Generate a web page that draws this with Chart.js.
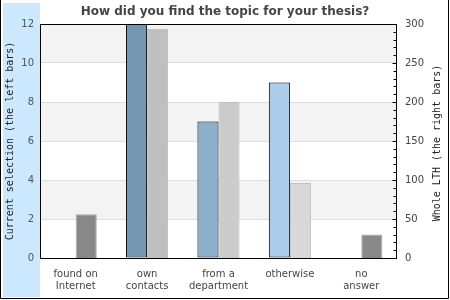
<!DOCTYPE html>
<html>
<head>
<meta charset="utf-8">
<script src="https://cdn.jsdelivr.net/npm/chart.js@4"></script>
<style>
html,body{margin:0;padding:0;background:#fff;}
#c{display:block;}
</style>
</head>
<body>
<canvas id="c" width="450" height="300"></canvas>
<script>
const categories = [["found on","Internet"],["own","contacts"],["from a","department"],["otherwise"],["no","answer"]];
const currentSelection = [0, 12, 7, 9, 0];
const wholeLTH = [56, 294, 200, 96, 30];
const leftTicks = [0, 2, 4, 6, 8, 10, 12];
const rightTicks = [0, 50, 100, 150, 200, 250, 300];
const titleText = "How did you find the topic for your thesis?";
const leftTitle = "Current selection (the left bars)";
const rightTitle = "Whole LTH (the right bars)";

const leftColors = ['#7496b0','#7496b0','#8fb0cc','#abcde9','#abcde9'];
const rightColors = ['#888888','#bfbfbf','#cbcbcb','#d8d8d8','#888888'];
const rightBorders = ['#a8a8a8','#bababa','#bdbdbd','#c2c2c2','#a8a8a8'];

const decor = {
  id: 'decor',
  beforeDraw(chart) {
    const ctx = chart.ctx, ca = chart.chartArea, y = chart.scales.y;
    ctx.save();
    ctx.fillStyle = '#fff';
    ctx.fillRect(0, 0, chart.width, chart.height);
    ctx.fillStyle = '#cbe8fe';
    ctx.fillRect(3, 3, 37, 294);
    // bands
    ctx.fillStyle = '#f3f3f3';
    for (let i = 0; i < leftTicks.length - 1; i++) {
      if (i % 2 === 1) {
        const y0 = y.getPixelForValue(leftTicks[i]);
        const y1 = y.getPixelForValue(leftTicks[i + 1]);
        ctx.fillRect(ca.left, y1, ca.right - ca.left, y0 - y1);
      }
    }
    ctx.restore();
  },
  afterDraw(chart) {
    const ctx = chart.ctx, ca = chart.chartArea, y1s = chart.scales.y1;
    ctx.save();
    ctx.strokeStyle = '#000';
    ctx.lineWidth = 1;
    ctx.strokeRect(ca.left + 0.5, ca.top + 0.5, ca.right - ca.left - 1, ca.bottom - ca.top);
    // right axis inward ticks
    ctx.beginPath();
    for (let v = 0; v <= 300; v += 10) {
      const py = Math.round(y1s.getPixelForValue(v)) + 0.5;
      const len = (v % 50 === 0) ? 4 : 3;
      ctx.moveTo(ca.right - 0.5, py);
      ctx.lineTo(ca.right - 0.5 - len, py);
    }
    ctx.stroke();
    // outer frame
    ctx.beginPath();
    ctx.moveTo(0.5, 0);
    ctx.lineTo(0.5, 298.5);
    ctx.lineTo(448.5, 298.5);
    ctx.lineTo(448.5, 0);
    ctx.stroke();
    // axis titles
    ctx.font = '10px "DejaVu Sans Mono"';
    ctx.fillStyle = '#222';
    ctx.textAlign = 'center';
    ctx.textBaseline = 'middle';
    const cy = (ca.top + ca.bottom) / 2;
    ctx.save();
    ctx.translate(10, cy);
    ctx.rotate(-Math.PI / 2);
    ctx.fillText(leftTitle, 0, 0);
    ctx.restore();
    ctx.save();
    ctx.translate(437, cy + 2);
    ctx.rotate(-Math.PI / 2);
    ctx.fillText(rightTitle, 0, 0);
    ctx.restore();
    ctx.restore();
  }
};

new Chart(document.getElementById('c'), {
  type: 'bar',
  data: {
    labels: categories,
    datasets: [
      {
        label: 'Current selection',
        data: currentSelection,
        yAxisID: 'y',
        backgroundColor: leftColors,
        borderColor: '#000',
        borderWidth: 1,
        borderSkipped: false
      },
      {
        label: 'Whole LTH',
        data: wholeLTH,
        yAxisID: 'y1',
        backgroundColor: rightColors,
        borderColor: rightBorders,
        borderWidth: 1,
        borderSkipped: 'bottom'
      }
    ]
  },
  options: {
    responsive: false,
    devicePixelRatio: 1,
    animation: false,
    layout: { padding: 0 },
    categoryPercentage: 0.59,
    barPercentage: 1,
    plugins: {
      legend: { display: false },
      tooltip: { enabled: false },
      title: {
        display: true,
        text: titleText,
        color: '#444',
        font: { family: 'DejaVu Sans', size: 12, weight: 'bold', lineHeight: 1.2 },
        padding: { top: 5, bottom: 4.6 }
      }
    },
    scales: {
      x: {
        grid: { display: false, drawTicks: false },
        border: { display: false },
        ticks: {
          color: '#444',
          font: { family: 'DejaVu Sans', size: 10, lineHeight: 1.2 },
          padding: 10,
          maxRotation: 0,
          autoSkip: false
        },
        afterFit(s) { s.height = 42; }
      },
      y: {
        position: 'left',
        min: 0, max: 12,
        grid: { color: '#dedede', drawTicks: false, tickLength: 0 },
        border: { display: false },
        ticks: {
          stepSize: 2,
          color: '#555',
          font: { family: 'DejaVu Sans', size: 10 },
          padding: 6
        },
        afterBuildTicks(s) { s.ticks = leftTicks.map(v => ({ value: v })); },
        afterFit(s) { s.width = 40; }
      },
      y1: {
        position: 'right',
        min: 0, max: 300,
        grid: { display: false, drawTicks: false, tickLength: 0 },
        border: { display: false },
        ticks: {
          stepSize: 50,
          color: '#444',
          font: { family: 'DejaVu Sans', size: 10 },
          padding: 8
        },
        afterBuildTicks(s) { s.ticks = rightTicks.map(v => ({ value: v })); },
        afterFit(s) { s.width = 53; }
      }
    }
  },
  plugins: [decor]
});
</script>
</body>
</html>
